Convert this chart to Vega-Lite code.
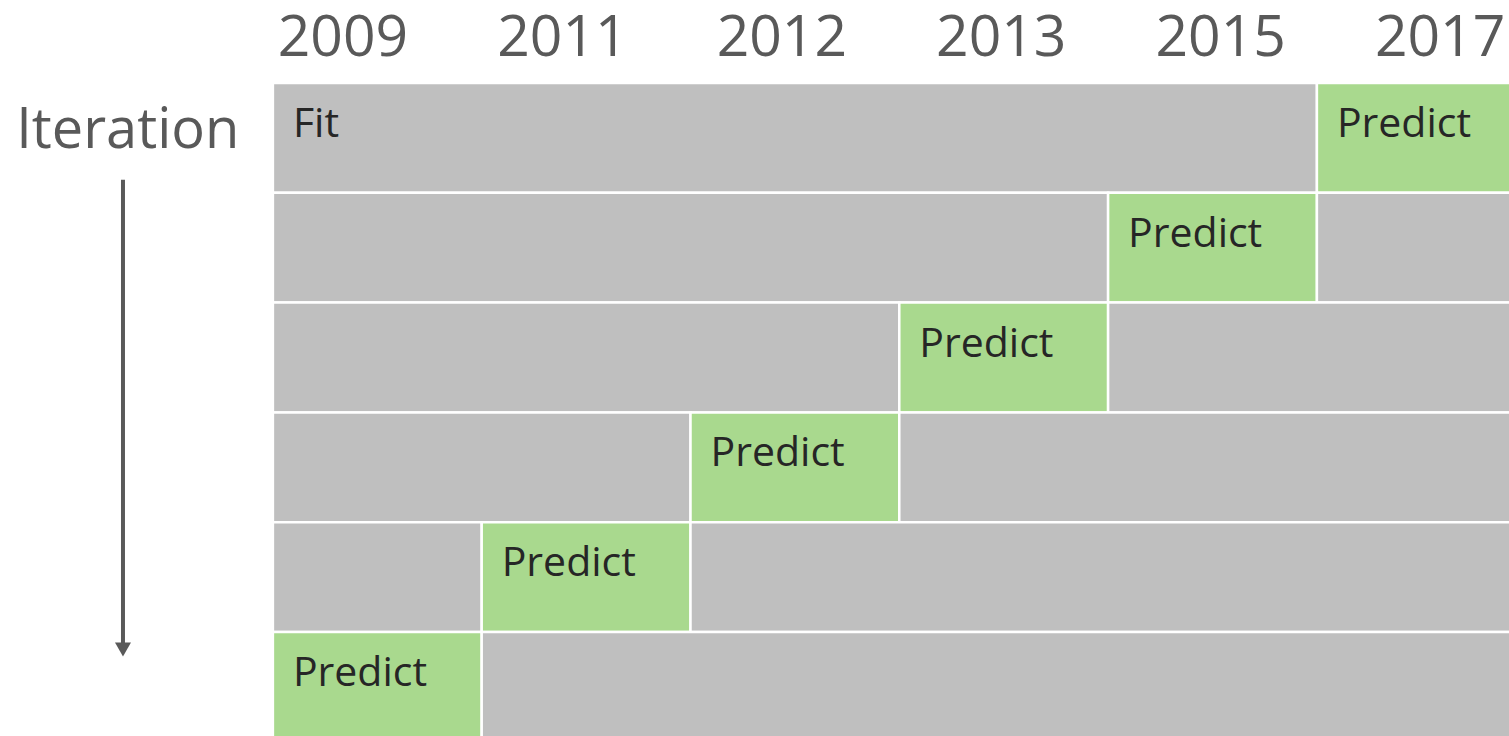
{
  "$schema": "https://vega.github.io/schema/vega-lite/v6.json",
  "width": 1509,
  "height": 736,
  "autosize": {"type": "none"},
  "padding": 0,
  "background": "white",
  "config": {"view": {"stroke": null}},
  "datasets": {
    "cells": [
      {"row": 0, "rowEnd": 1, "start": 0, "end": 5, "kind": "Fit", "label": "Fit"},
      {"row": 0, "rowEnd": 1, "start": 5, "end": 6, "kind": "Predict", "label": "Predict"},
      {"row": 1, "rowEnd": 2, "start": 0, "end": 4, "kind": "Fit", "label": ""},
      {"row": 1, "rowEnd": 2, "start": 4, "end": 5, "kind": "Predict", "label": "Predict"},
      {"row": 1, "rowEnd": 2, "start": 5, "end": 6, "kind": "Fit", "label": ""},
      {"row": 2, "rowEnd": 3, "start": 0, "end": 3, "kind": "Fit", "label": ""},
      {"row": 2, "rowEnd": 3, "start": 3, "end": 4, "kind": "Predict", "label": "Predict"},
      {"row": 2, "rowEnd": 3, "start": 4, "end": 6, "kind": "Fit", "label": ""},
      {"row": 3, "rowEnd": 4, "start": 0, "end": 2, "kind": "Fit", "label": ""},
      {"row": 3, "rowEnd": 4, "start": 2, "end": 3, "kind": "Predict", "label": "Predict"},
      {"row": 3, "rowEnd": 4, "start": 3, "end": 6, "kind": "Fit", "label": ""},
      {"row": 4, "rowEnd": 5, "start": 0, "end": 1, "kind": "Fit", "label": ""},
      {"row": 4, "rowEnd": 5, "start": 1, "end": 2, "kind": "Predict", "label": "Predict"},
      {"row": 4, "rowEnd": 5, "start": 2, "end": 6, "kind": "Fit", "label": ""},
      {"row": 5, "rowEnd": 6, "start": 0, "end": 1, "kind": "Predict", "label": "Predict"},
      {"row": 5, "rowEnd": 6, "start": 1, "end": 6, "kind": "Fit", "label": ""}
    ],
    "years": [
      {"year": "2009", "i": 0},
      {"year": "2011", "i": 1},
      {"year": "2012", "i": 2},
      {"year": "2013", "i": 3},
      {"year": "2015", "i": 4},
      {"year": "2017", "i": 5}
    ],
    "axisLabel": [
      {"label": "Iteration"}
    ]
  },
  "resolve": {"scale": {"x": "independent"}},
  "layer": [
    {
      "data": {"name": "years"},
      "mark": {"type": "text", "font": "Open Sans", "fontSize": 57, "color": "#595959", "align": "center", "baseline": "alphabetic", "dy": -27},
      "encoding": {
        "x": {"field": "i", "type": "quantitative", "scale": {"domain": [-1.563, 5.314], "nice": false, "zero": false}, "axis": null},
        "y": {"datum": 0, "type": "quantitative", "scale": {"domain": [-0.756, 5.947], "reverse": true, "nice": false, "zero": false}, "axis": null},
        "text": {"field": "year"}
      }
    },
    {
      "layer": [
        {
          "data": {"name": "cells"},
          "mark": {"type": "rect", "stroke": "white", "strokeWidth": 2.5},
          "encoding": {
            "x": {"field": "start", "type": "quantitative", "scale": {"domain": [-1.307, 5.92], "nice": false, "zero": false}, "axis": null},
            "x2": {"field": "end"},
            "y": {"field": "row", "type": "quantitative", "scale": {"domain": [-0.756, 5.947], "reverse": true, "nice": false, "zero": false}, "axis": null},
            "y2": {"field": "rowEnd"},
            "color": {"field": "kind", "type": "nominal", "scale": {"domain": ["Fit", "Predict"], "range": ["#BFBFBF", "#A9D98E"]}, "legend": null}
          }
        },
        {
          "data": {"name": "cells"},
          "transform": [{"filter": "datum.label != ''"}],
          "mark": {"type": "text", "font": "Open Sans", "fontSize": 41, "color": "#262626", "align": "left", "baseline": "alphabetic", "dx": 20, "dy": 54},
          "encoding": {
            "x": {"field": "start", "type": "quantitative"},
            "y": {"field": "row", "type": "quantitative"},
            "text": {"field": "label"}
          }
        },
        {
          "data": {"name": "axisLabel"},
          "layer": [
            {
              "mark": {"type": "text", "font": "Open Sans", "fontSize": 56, "color": "#595959", "align": "center", "baseline": "alphabetic", "dy": 65, "dx": 1},
              "encoding": {
                "x": {"datum": -0.7, "type": "quantitative"},
                "y": {"datum": 0, "type": "quantitative"},
                "text": {"field": "label"}
              }
            },
            {
              "mark": {"type": "rule", "color": "#595959", "strokeWidth": 4},
              "encoding": {
                "x": {"datum": -0.718, "type": "quantitative"},
                "y": {"datum": 0.88, "type": "quantitative"},
                "y2": {"datum": 5.1}
              }
            },
            {
              "mark": {"type": "point", "shape": "triangle-down", "filled": true, "color": "#595959", "opacity": 1, "size": 256},
              "encoding": {
                "x": {"datum": -0.718, "type": "quantitative"},
                "y": {"datum": 5.159, "type": "quantitative"}
              }
            }
          ]
        }
      ]
    }
  ]
}
